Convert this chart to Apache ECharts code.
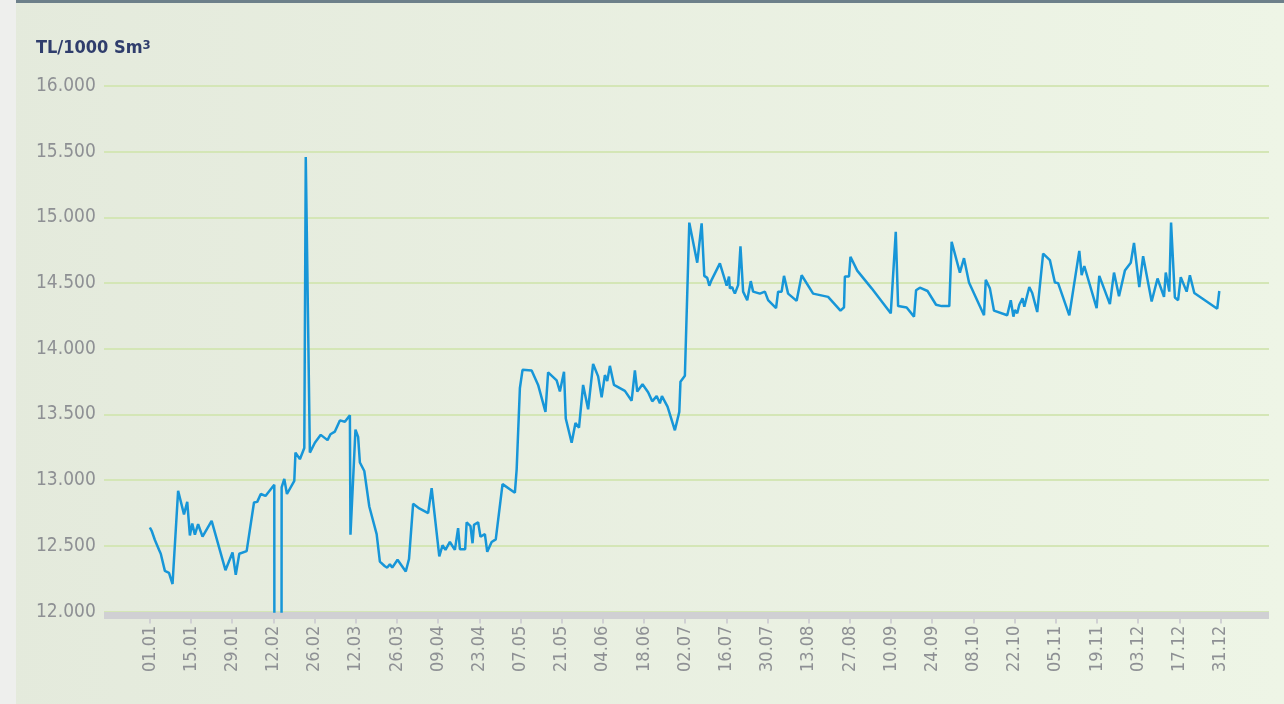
<!DOCTYPE html>
<html>
<head>
<meta charset="utf-8">
<title>TL/1000 Sm3</title>
<script src="https://cdn.jsdelivr.net/npm/echarts@6/dist/echarts.min.js"></script>
<style>
  html, body { margin: 0; padding: 0; }
  #chart { width: 1284px; height: 704px; }
</style>
</head>
<body>
<div id="chart"></div>
<script>
// gün (yılın günü, 0 = 01.01) ve fiyat (TL/1000 Sm3)
var days = [
  0, 0.6, 1.7, 3.1, 3.7, 5.1, 6.5, 7.7, 9.6, 11.6, 12.7, 13.6, 14.4, 15.3, 16.4, 17.9,
  21.0, 25.7, 28.1, 29.2, 30.4, 32.9, 35.4, 36.5, 37.7, 39.3, 42.3, 42.6, 44.4, 44.8,
  45.7, 46.6, 49.1, 49.5, 51.0, 52.5, 53.0, 54.4, 56.1, 58.1, 60.4, 61.4, 62.9, 64.6,
  66.3, 68.0, 68.2, 69.9, 70.8, 71.4, 72.9, 74.6, 77.1, 78.2, 79.9, 80.7, 81.6, 82.4,
  84.2, 87.0, 88.1, 89.5, 91.6, 94.6, 95.8, 98.4, 99.5, 100.5, 102.0, 103.7, 104.8,
  105.4, 107.2, 107.7, 109.0, 109.7, 110.2, 111.6, 112.4, 113.9, 114.7, 116.2, 117.6,
  119.9, 124.1, 124.7, 125.8, 126.7, 129.8, 132.0, 134.5, 135.4, 138.3, 139.4, 140.8,
  141.4, 143.4, 144.7, 145.9, 147.3, 149.0, 150.7, 152.4, 153.6, 154.7, 155.5, 156.4,
  157.8, 161.5, 163.8, 164.9, 165.7, 167.5, 169.4, 170.8, 172.3, 173.4, 174.1, 176.0,
  178.5, 180.0, 180.4, 181.9, 183.4, 186.1, 187.6, 188.5, 189.5, 190.2, 191.0, 193.8,
  196.1, 196.9, 197.2, 198.0, 198.3, 198.9, 200.0, 200.8, 201.7, 203.1, 204.3, 205.1,
  207.4, 209.1, 210.2, 212.9, 213.6, 214.8, 215.6, 217.0, 219.9, 221.6, 225.5, 230.6,
  234.8, 236.0, 236.3, 237.7, 238.2, 240.5, 245.4, 251.9, 253.6, 254.4, 257.3, 259.8,
  260.5, 261.8, 264.4, 267.3, 269.2, 271.8, 272.6, 275.4, 276.8, 278.5, 283.6, 284.2,
  285.6, 287.0, 291.5, 292.7, 293.6, 294.1, 294.9, 295.6, 296.7, 297.3, 299.0, 300.0,
  301.7, 303.7, 306.0, 307.7, 308.8, 312.6, 316.0, 316.8, 317.7, 321.9, 322.8, 326.4,
  327.8, 329.5, 331.5, 333.5, 334.6, 336.4, 337.7, 340.6, 342.6, 344.8, 345.4, 346.6,
  347.2, 348.5, 349.6, 350.5, 352.5, 353.6, 355.1, 362.9, 363.6
];
var prices = [
  12640, 12615, 12545, 12470, 12440, 12310, 12295, 12210, 12920, 12740, 12835, 12580, 12670, 12585, 12665, 12570,
  12690, 12315, 12450, 12280, 12440, 12460, 12830, 12835, 12895, 12880, 12965, 0, 0, 12945,
  13010, 12895, 12995, 13210, 13160, 13245, 15460, 13210, 13285, 13345, 13305, 13350, 13370, 13455,
  13445, 13495, 12585, 13385, 13330, 13135, 13070, 12800, 12590, 12380, 12345, 12335, 12360, 12335,
  12395, 12305, 12400, 12820, 12785, 12750, 12940, 12420, 12505, 12470, 12530, 12470, 12635,
  12475, 12475, 12680, 12650, 12520, 12660, 12680, 12570, 12590, 12455, 12530, 12550,
  12970, 12905, 13080, 13700, 13840, 13835, 13725, 13520, 13820, 13760, 13675, 13825,
  13470, 13285, 13435, 13400, 13725, 13540, 13885, 13790, 13630, 13800, 13755, 13870,
  13725, 13680, 13605, 13835, 13675, 13730, 13670, 13600, 13640, 13585, 13640, 13560,
  13380, 13520, 13750, 13795, 14960, 14655, 14955, 14555, 14540, 14480, 14525, 14650,
  14480, 14550, 14460, 14470, 14450, 14420, 14485, 14780, 14435, 14370, 14515, 14435,
  14420, 14435, 14370, 14310, 14435, 14435, 14555, 14420, 14365, 14560, 14420, 14395,
  14290, 14315, 14550, 14550, 14700, 14595, 14460, 14270, 14890, 14325, 14315, 14245,
  14445, 14465, 14440, 14335, 14325, 14325, 14815, 14580, 14690, 14505, 14255, 14525,
  14460, 14290, 14255, 14370, 14245, 14295, 14270, 14335, 14385, 14320, 14470, 14425,
  14280, 14725, 14675, 14505, 14500, 14255, 14745, 14560, 14630, 14310, 14555, 14340,
  14580, 14400, 14595, 14655, 14805, 14470, 14705, 14360, 14535, 14395, 14580, 14435,
  14960, 14390, 14370, 14545, 14435, 14560, 14425, 14305, 14440
];
// x ekseni etiketleri (14 günde bir)
var tickLabels = [
  '01.01', '15.01', '29.01', '12.02', '26.02', '12.03', '26.03', '09.04', '23.04',
  '07.05', '21.05', '04.06', '18.06', '02.07', '16.07', '30.07', '13.08', '27.08',
  '10.09', '24.09', '08.10', '22.10', '05.11', '19.11', '03.12', '17.12', '31.12'
];
var tickDays = tickLabels.map(function (l, i) { return i * 14; });

var lineData = days.map(function (d, i) { return [d, prices[i]]; });

var labelFont = '"Liberation Sans Narrow", "DejaVu Sans Condensed", "Roboto", sans-serif';

var chart = echarts.init(document.getElementById('chart'));
chart.setOption({
  animation: false,
  backgroundColor: {
    type: 'linear', x: 0, y: 0, x2: 1, y2: 0,
    colorStops: [
      { offset: 0, color: '#e4eadc' },
      { offset: 1, color: '#eef5e6' }
    ]
  },
  graphic: [
    { type: 'rect', left: 0, top: 0, shape: { width: 16, height: 704 }, style: { fill: '#eeefed' }, silent: true },
    { type: 'rect', left: 16, top: 0, shape: { width: 1268, height: 3 }, style: { fill: '#6d808a' }, silent: true }
  ],
  title: {
    left: 36,
    top: 39,
    padding: 0,
    text: '{a|TL/1000 Sm}{b|3}',
    textStyle: {
      rich: {
        a: { fontFamily: labelFont, fontWeight: 'bold', fontSize: 18, color: '#2f3d6c', verticalAlign: 'bottom' },
        b: { fontFamily: labelFont, fontWeight: 'bold', fontSize: 13, color: '#2f3d6c', verticalAlign: 'top' }
      }
    }
  },
  grid: { left: 104, right: 15, top: 86, bottom: 92.4 },
  xAxis: {
    type: 'value',
    min: -15.6,
    max: 380.5,
    offset: 4,
    splitLine: { show: false },
    axisLine: { show: true, lineStyle: { color: '#d0d0d3', width: 7, cap: 'butt' } },
    axisTick: { show: true, customValues: tickDays, length: 8, lineStyle: { color: '#d0d0d3', width: 2 } },
    axisLabel: {
      customValues: tickDays,
      rotate: 90,
      margin: 10,
      fontFamily: labelFont,
      fontSize: 18,
      color: '#8e9094',
      formatter: function (v) { return tickLabels[Math.round(v / 14)]; }
    }
  },
  yAxis: {
    type: 'value',
    min: 12000,
    max: 16000,
    interval: 500,
    axisLine: { show: false },
    axisTick: { show: false },
    splitLine: { lineStyle: { color: '#d4e6b6', width: 2 } },
    axisLabel: {
      align: 'left',
      margin: 68,
      fontFamily: labelFont,
      fontSize: 19,
      color: '#8e9094',
      formatter: function (v) { return (v / 1000).toFixed(3); }
    }
  },
  series: [{
    type: 'line',
    data: lineData,
    showSymbol: false,
    clip: true,
    lineStyle: { color: '#1796d8', width: 2.5 },
    z: 3
  }]
});
</script>
</body>
</html>
